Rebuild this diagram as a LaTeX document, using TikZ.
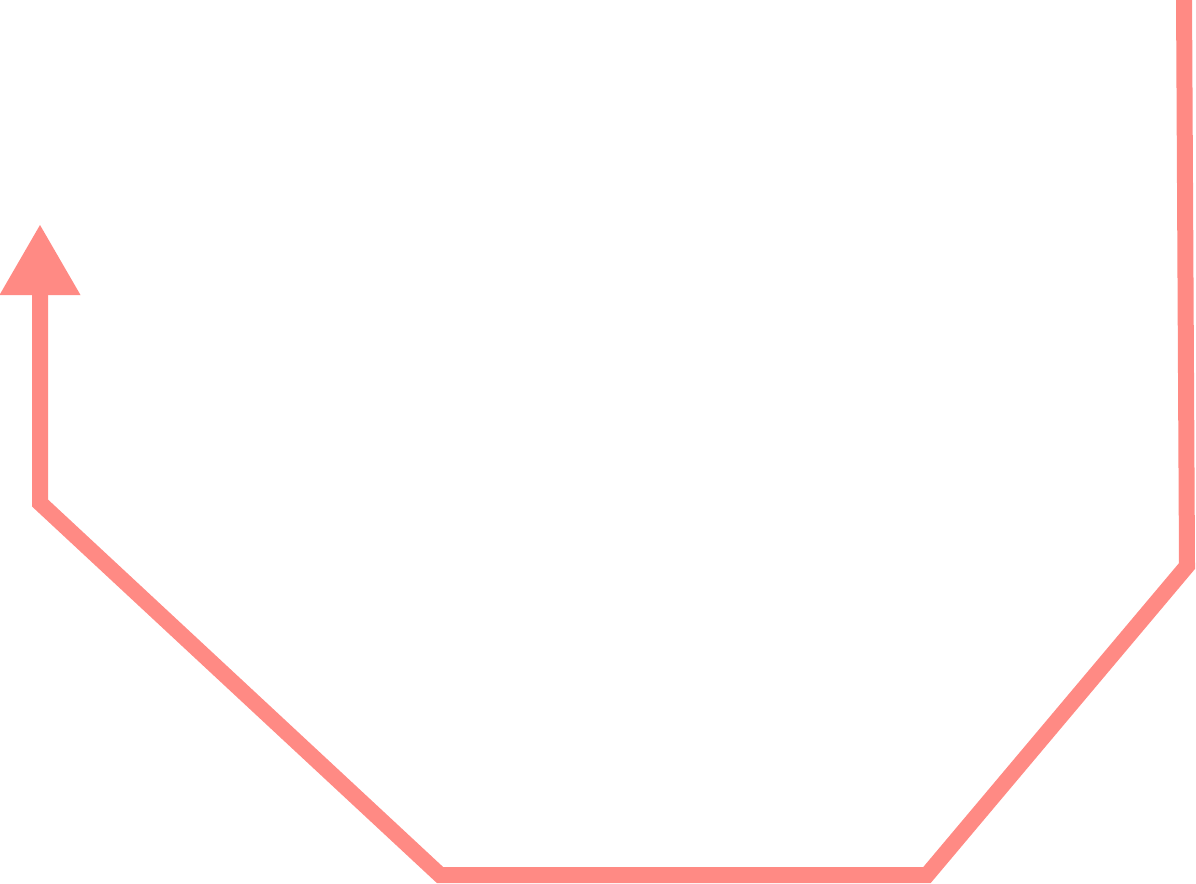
\documentclass[tikz,border=0pt]{standalone}
\usetikzlibrary{arrows.meta}
\definecolor{salmon}{RGB}{255,138,132}
\tikzset{
  route/.style={draw=salmon, line width=16pt, line join=miter,
                -{Triangle[length=70pt,width=81pt,line width=0pt]}},
}
\begin{document}
\begin{tikzpicture}[x=1pt,y=-1pt]
  \useasboundingbox (0,0) rectangle (1196,883);
  % corner points of the loop
  \coordinate (top)   at (1184,-4);
  \coordinate (right) at (1187,566);
  \coordinate (br)    at (927,875);
  \coordinate (bl)    at (440,875);
  \coordinate (left)  at (40,503);
  \coordinate (tip)   at (40,225);
  \draw[route] (top) -- (right) -- (br) -- (bl) -- (left) -- (tip);
\end{tikzpicture}
\end{document}
